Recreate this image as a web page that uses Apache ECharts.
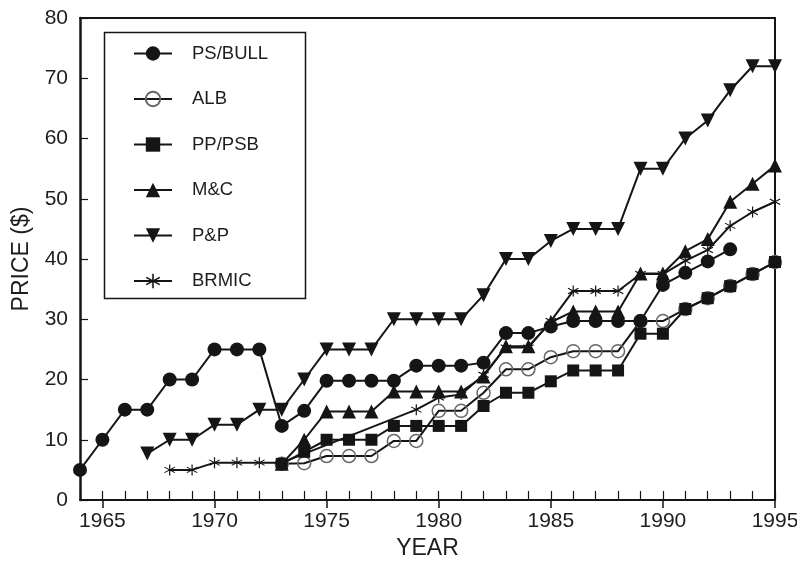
<!DOCTYPE html>
<html>
<head>
<meta charset="utf-8">
<script src="https://cdn.jsdelivr.net/npm/echarts@6/dist/echarts.min.js"></script>
<style>html,body{margin:0;padding:0;background:#fff;overflow:hidden;width:797px;height:563px;}#c{width:797px;height:563px;overflow:hidden;}</style>
</head>
<body>
<div id="c"></div>
<script>
const yearLabels = ['1964','1965','1966','1967','1968','1969','1970','1971','1972','1973','1974','1975','1976','1977','1978','1979','1980','1981','1982','1983','1984','1985','1986','1987','1988','1989','1990','1991','1992','1993','1994','1995'];
const priceTicks = [0, 80, 10];

const psBullYears = ['1964','1965','1966','1967','1968','1969','1970','1971','1972','1973','1974','1975','1976','1977','1978','1979','1980','1981','1982','1983','1984','1985','1986','1987','1988','1989','1990','1991','1992','1993'];
const psBullValues = [5,10,15,15,20,20,25,25,25,12.3,14.8,19.8,19.8,19.8,19.8,22.3,22.3,22.3,22.8,27.7,27.7,28.8,29.7,29.7,29.7,29.7,35.7,37.7,39.6,41.6];

const albYears = ['1973','1974','1975','1976','1977','1978','1979','1980','1981','1982','1983','1984','1985','1986','1987','1988','1989','1990','1991','1992','1993','1994','1995'];
const albValues = [6,6.1,7.3,7.3,7.3,9.8,9.8,14.8,14.8,17.8,21.7,21.7,23.7,24.7,24.7,24.7,29.7,29.7,31.7,33.5,35.5,37.5,39.5];

const ppPsbYears = ['1973','1974','1975','1976','1977','1978','1979','1980','1981','1982','1983','1984','1985','1986','1987','1988','1989','1990','1991','1992','1993','1994','1995'];
const ppPsbValues = [6,8,10,10,10,12.3,12.3,12.3,12.3,15.6,17.8,17.8,19.7,21.5,21.5,21.5,27.6,27.6,31.7,33.5,35.5,37.5,39.5];

const mcYears = ['1973','1974','1975','1976','1977','1978','1979','1980','1981','1982','1983','1984','1985','1986','1987','1988','1989','1990','1991','1992','1993','1994','1995'];
const mcValues = [6,10,14.7,14.7,14.7,18,18,18,18,20.5,25.5,25.5,29.5,31.3,31.3,31.3,37.6,37.6,41.3,43.3,49.5,52.5,55.5];

const ppYears = ['1967','1968','1969','1970','1971','1972','1973','1974','1975','1976','1977','1978','1979','1980','1981','1982','1983','1984','1985','1986','1987','1988','1989','1990','1991','1992','1993','1994','1995'];
const ppValues = [7.7,10,10,12.5,12.5,15,15,20,25,25,25,30,30,30,30,34,40,40,43,45,45,45,55,55,60,63,68,72,72];

const brmicYears = ['1968','1969','1970','1971','1972','1973','1979','1980','1981','1982','1983','1984','1985','1986','1987','1988','1989','1990','1991','1992','1993','1994','1995'];
const brmicValues = [5,5,6.2,6.2,6.2,6.2,15,17,17.5,20.8,25.3,25.3,29.7,34.7,34.7,34.7,37.5,37.5,39.7,41.5,45.5,47.8,49.5];

const seriesNames = ['PS/BULL','ALB','PP/PSB','M&C','P&P','BRMIC'];

const pairs = (xs, vs) => xs.map((x, i) => [x, vs[i]]);
const FONT = "'Liberation Sans', Arial, Helvetica, sans-serif";
const INK = '#151515';
const TXT = '#1e1e1e';
const starPath = 'path://M9 0L11 0L11 20L9 20Z M18.16 4.13L19.16 5.87L1.84 15.87L0.84 14.13Z M19.16 14.13L18.16 15.87L0.84 5.87L1.84 4.13Z';
const downTri = 'path://M0 0L20 0L10 17Z';
const isMajor = (idx, val) => (+val) % 5 === 0;

function mk(name, data, symbol, size, itemStyle, z) {
  return {
    name: name, type: 'line', data: data, symbol: symbol, symbolSize: size,
    showAllSymbol: true,
    lineStyle: { color: INK, width: 2 },
    itemStyle: itemStyle,
    z: z
  };
}

const chart = echarts.init(document.getElementById('c'), null, { width: 797, height: 563 });
chart.setOption({
  animation: false,
  backgroundColor: '#fff',
  grid: { left: 80, right: 22, top: 18, bottom: 63, containLabel: false, outerBoundsMode: 'none' },
  legend: {
    orient: 'vertical', left: 133, top: 44, padding: 0,
    itemWidth: 38, itemHeight: 18, itemGap: 26.5,
    data: seriesNames,
    textStyle: { fontFamily: FONT, fontSize: 18.5, color: TXT, padding: [0, 0, 0, 15] }
  },
  graphic: [{
    type: 'rect', left: 102, top: 30, z: 100, silent: true,
    shape: { x: 0, y: 0, width: 201, height: 266 },
    style: { fill: 'none', stroke: INK, lineWidth: 1.5 }
  }],
  xAxis: [
    {
      type: 'category', data: yearLabels, boundaryGap: false,
      name: 'YEAR', nameLocation: 'middle', nameGap: 36,
      nameTextStyle: { fontFamily: FONT, fontSize: 23, color: TXT },
      axisLine: { lineStyle: { color: INK, width: 2 } },
      axisTick: { inside: true, length: 9, interval: 0, lineStyle: { color: INK, width: 1.2 } },
      axisLabel: { interval: isMajor, fontFamily: FONT, fontSize: 21, color: TXT, margin: 11 },
      splitLine: { show: false }
    },
    {
      type: 'category', data: yearLabels, boundaryGap: false, position: 'bottom',
      axisLine: { show: false },
      axisTick: { inside: false, length: 8, interval: isMajor, lineStyle: { color: INK, width: 1.5 } },
      axisLabel: { show: false }, splitLine: { show: false }
    },
    {
      type: 'category', data: yearLabels, boundaryGap: false, position: 'top',
      axisLine: { show: true, lineStyle: { color: INK, width: 2 } },
      axisTick: { show: false }, axisLabel: { show: false }, splitLine: { show: false }
    }
  ],
  yAxis: [
    {
      type: 'value', min: priceTicks[0], max: priceTicks[1], interval: priceTicks[2],
      name: 'PRICE ($)', nameLocation: 'middle', nameGap: 47, nameRotate: 90,
      nameTextStyle: { fontFamily: FONT, fontSize: 23, color: TXT },
      axisLine: { show: true, lineStyle: { color: INK, width: 2.5 } },
      axisTick: { show: true, inside: true, length: 8, lineStyle: { color: INK, width: 1.2 } },
      axisLabel: { fontFamily: FONT, fontSize: 21, color: TXT, margin: 12 },
      splitLine: { show: false }
    },
    {
      type: 'value', min: priceTicks[0], max: priceTicks[1], interval: priceTicks[2], position: 'right',
      axisLine: { show: true, lineStyle: { color: INK, width: 2 } },
      axisTick: { show: false }, axisLabel: { show: false }, splitLine: { show: false }
    }
  ],
  series: [
    mk('ALB', pairs(albYears, albValues), 'circle', 13, { color: 'rgba(0,0,0,0)', borderColor: '#666', borderWidth: 1.5 }, 2),
    mk('PP/PSB', pairs(ppPsbYears, ppPsbValues), 'rect', 12, { color: INK }, 3),
    mk('BRMIC', pairs(brmicYears, brmicValues), starPath, 11, { color: INK }, 4),
    mk('M&C', pairs(mcYears, mcValues), 'triangle', 14, { color: INK }, 5),
    mk('P&P', pairs(ppYears, ppValues), downTri, 14, { color: INK }, 6),
    mk('PS/BULL', pairs(psBullYears, psBullValues), 'circle', 14, { color: INK }, 7)
  ]
});
</script>
</body>
</html>
